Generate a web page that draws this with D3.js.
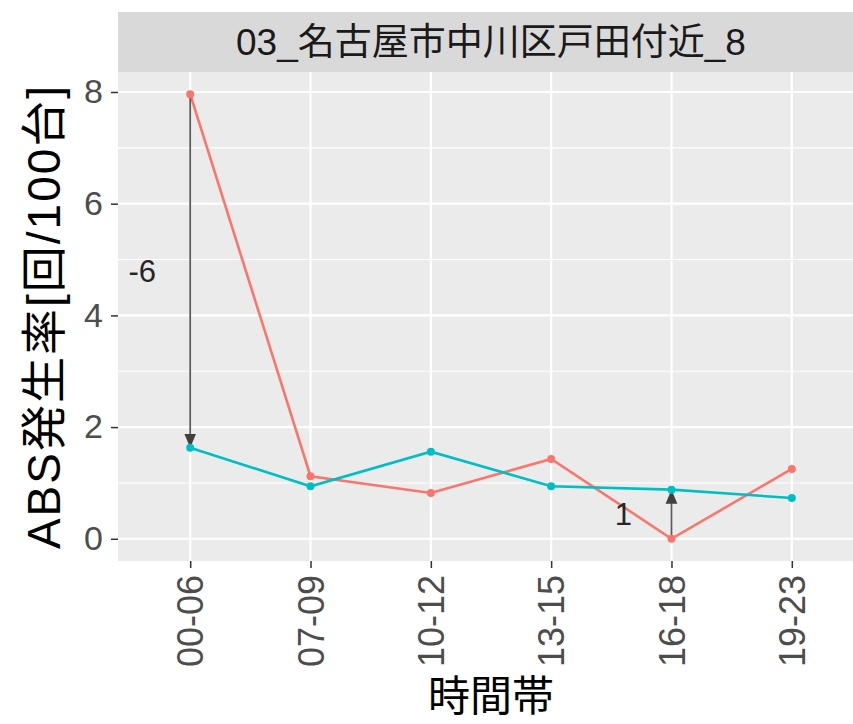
<!DOCTYPE html>
<html>
<head>
<meta charset="utf-8">
<script src="https://cdn.jsdelivr.net/npm/d3@7"></script>
<style>
  body { margin: 0; background: #fff; }
  text { font-family: "Liberation Sans", Arial, "Noto Sans CJK JP", sans-serif; }
</style>
</head>
<body>
<svg width="853" height="724"></svg>
<script>
var facetTitle = "03_名古屋市中川区戸田付近_8";
var timeBands = ["00-06", "07-09", "10-12", "13-15", "16-18", "19-23"];
var seriesRed = [7.96, 1.12, 0.82, 1.43, 0.00, 1.25];
var seriesTeal = [1.63, 0.94, 1.56, 0.94, 0.88, 0.73];
var arrowAt = ["00-06", "16-18"];
var yTicks = [0, 2, 4, 6, 8];

var svg = d3.select("svg"),
    margin = {top: 72, left: 118, bottom: 163},
    panelRight = 864,
    height = 724;

var x = d3.scalePoint()
    .domain(timeBands)
    .range([margin.left, panelRight])
    .padding(0.6);

var all = seriesRed.concat(seriesTeal),
    lo = d3.min(all), hi = d3.max(all), pad = (hi - lo) * 0.05;

var y = d3.scaleLinear()
    .domain([lo - pad, hi + pad])
    .range([height - margin.bottom, margin.top]);

// facet strip
svg.append("rect")
    .attr("x", margin.left).attr("y", 12)
    .attr("width", panelRight - margin.left).attr("height", margin.top - 12)
    .attr("fill", "#d9d9d9");
svg.append("text")
    .attr("x", (margin.left + panelRight) / 2)
    .attr("y", 42)
    .attr("dy", "0.35em")
    .attr("text-anchor", "middle")
    .attr("font-size", 37)
    .attr("fill", "#1a1a1a")
    .text(facetTitle);

// panel
svg.append("rect")
    .attr("x", margin.left).attr("y", margin.top)
    .attr("width", panelRight - margin.left)
    .attr("height", y.range()[0] - margin.top)
    .attr("fill", "#ebebeb");

var grid = svg.append("g");
var minor = d3.range(1, 8, 2);
grid.selectAll(".minor").data(minor).enter().append("line")
    .attr("x1", margin.left).attr("x2", panelRight)
    .attr("y1", function(d) { return y(d); }).attr("y2", function(d) { return y(d); })
    .attr("stroke", "#fff").attr("stroke-width", 1.1);
grid.selectAll(".majory").data(yTicks).enter().append("line")
    .attr("x1", margin.left).attr("x2", panelRight)
    .attr("y1", function(d) { return y(d); }).attr("y2", function(d) { return y(d); })
    .attr("stroke", "#fff").attr("stroke-width", 2.2);
grid.selectAll(".majorx").data(timeBands).enter().append("line")
    .attr("y1", margin.top).attr("y2", y.range()[0])
    .attr("x1", function(d) { return x(d); }).attr("x2", function(d) { return x(d); })
    .attr("stroke", "#fff").attr("stroke-width", 2.2);

// axes
var yAxis = svg.append("g")
    .attr("transform", "translate(" + margin.left + ",0)")
    .call(d3.axisLeft(y).tickValues(yTicks).tickSize(7).tickPadding(8));
yAxis.select(".domain").remove();
yAxis.selectAll("line").attr("stroke", "#333").attr("stroke-width", 1.5);
yAxis.selectAll("text").attr("font-size", 34).attr("fill", "#4d4d4d");

var xAxis = svg.append("g")
    .attr("transform", "translate(0," + y.range()[0] + ")")
    .call(d3.axisBottom(x).tickSize(7).tickPadding(9));
xAxis.select(".domain").remove();
xAxis.selectAll("line").attr("stroke", "#333").attr("stroke-width", 1.5);
xAxis.selectAll("text")
    .attr("font-size", 36).attr("fill", "#4d4d4d")
    .attr("transform", "rotate(-90)")
    .attr("text-anchor", "end")
    .attr("x", -14).attr("y", 0).attr("dy", "0.35em");

// lines and points
var line = d3.line()
    .x(function(d, i) { return x(timeBands[i]); })
    .y(function(d) { return y(d); });

var series = [{vals: seriesRed, color: "#f8766d"}, {vals: seriesTeal, color: "#00bfc4"}];

series.forEach(function(s) {
  svg.append("path")
      .datum(s.vals)
      .attr("d", line)
      .attr("fill", "none")
      .attr("stroke", s.color)
      .attr("stroke-width", 2.6);
});

// difference arrows
svg.append("defs").append("marker")
    .attr("id", "arr")
    .attr("viewBox", "0 0 10 10")
    .attr("refX", 10).attr("refY", 5)
    .attr("markerUnits", "userSpaceOnUse")
    .attr("markerWidth", 14).attr("markerHeight", 14)
    .attr("orient", "auto")
  .append("path")
    .attr("d", "M0,0.8 L10,5 L0,9.2 Z")
    .attr("fill", "#404040");

arrowAt.forEach(function(k) {
  var i = timeBands.indexOf(k),
      a = seriesRed[i], b = seriesTeal[i];
  svg.append("line")
      .attr("x1", x(k)).attr("x2", x(k))
      .attr("y1", y(a)).attr("y2", y(b))
      .attr("stroke", "#404040").attr("stroke-opacity", 0.85)
      .attr("stroke-width", 1.8)
      .attr("marker-end", "url(#arr)");
  svg.append("text")
      .attr("x", x(k) - 48)
      .attr("y", y((a + b) / 2))
      .attr("dy", "0.35em")
      .attr("text-anchor", "middle")
      .attr("font-size", 31)
      .attr("fill", "#262626")
      .text(Math.round(b - a));
});

series.forEach(function(s) {
  svg.append("g").selectAll("circle")
      .data(s.vals)
      .enter().append("circle")
      .attr("cx", function(d, i) { return x(timeBands[i]); })
      .attr("cy", function(d) { return y(d); })
      .attr("r", 4)
      .attr("fill", s.color);
});

// axis titles
svg.append("text")
    .attr("x", (margin.left + panelRight) / 2)
    .attr("y", 696)
    .attr("dy", "0.35em")
    .attr("text-anchor", "middle")
    .attr("font-size", 42)
    .attr("fill", "#000")
    .text("時間帯");

svg.append("text")
    .attr("transform", "translate(44," + ((margin.top + y.range()[0]) / 2) + ") rotate(-90)")
    .attr("dy", "0.35em")
    .attr("text-anchor", "middle")
    .attr("font-size", 46)
    .attr("letter-spacing", 2)
    .attr("fill", "#000")
    .text("ABS発生率[回/100台]");
</script>
</body>
</html>
